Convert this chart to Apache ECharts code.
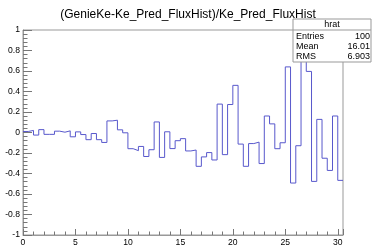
<!DOCTYPE html>
<html><head><meta charset="utf-8">
<script src="https://cdn.jsdelivr.net/npm/echarts@6/dist/echarts.min.js"></script>
<style>html,body{margin:0;padding:0;background:#fff}#c{width:372px;height:247px}</style>
</head><body><div id="c"></div>
<script>
const titleText = '(GenieKe-Ke_Pred_FluxHist)/Ke_Pred_FluxHist';
const xMin = 0;
const xMax = 30.5;
const binWidth = 0.5;
const binValues = [
  0.01, 0.02, -0.025, 0.028, -0.018, -0.018, 0.013, 0.003, 0.016, -0.042,
  0.006, -0.02, -0.07, -0.01, -0.07, -0.097, 0.113, 0.12, 0.026, -0.003,
  -0.158, -0.177, -0.136, -0.234, -0.168, 0.103, -0.243, 0.007, -0.157, -0.08,
  -0.06, -0.18, -0.171, -0.33, -0.238, -0.196, -0.268, 0.277, -0.216, 0.273,
  0.46, -0.113, -0.33, -0.108, -0.094, -0.303, 0.161, 0.084, -0.158, -0.1,
  0.64, -0.493, -0.129, 0.85, 0.596, -0.477, 0.128, -0.251, -0.37, 0.161,
  -0.467
];
const xTickLabels = [0, 5, 10, 15, 20, 25, 30];
const yTickLabels = [-1, -0.8, -0.6, -0.4, -0.2, 0, 0.2, 0.4, 0.6, 0.8, 1];
const statsName = 'hrat';
const statsLabels = ['Entries', 'Mean', 'RMS'];
const statsValues = ['100', '16.01', '6.903'];

const histData = binValues.map((v, i) => [xMin + i * binWidth, v]);
histData.push([xMin + binValues.length * binWidth, binValues[binValues.length - 1]]);

const font = 'Liberation Sans, Arial, Helvetica, sans-serif';
const axisGrey = '#999';
const chart = echarts.init(document.getElementById('c'), null, {renderer: 'canvas'});

const bx = 293, by = 19, bw = 78, bh = 43;
const graphics = [
  {type: 'rect', shape: {x: bx, y: by, width: bw, height: bh}, style: {fill: '#fff', stroke: axisGrey, lineWidth: 1}, z: 100},
  {type: 'line', shape: {x1: bx, y1: 30, x2: bx + bw, y2: 30}, style: {stroke: axisGrey, lineWidth: 1}, z: 101},
  {type: 'text', x: bx + bw / 2, y: 24.5, style: {text: statsName, font: '9px ' + font, fill: '#000', align: 'center', verticalAlign: 'middle'}, z: 101}
];
statsLabels.forEach((lab, i) => {
  const yy = 36.5 + i * 10;
  graphics.push({type: 'text', x: bx + 3, y: yy, style: {text: lab, font: '9px ' + font, fill: '#000', align: 'left', verticalAlign: 'middle'}, z: 101});
  graphics.push({type: 'text', x: bx + bw - 1, y: yy, style: {text: statsValues[i], font: '9px ' + font, fill: '#000', align: 'right', verticalAlign: 'middle'}, z: 101});
});

chart.setOption({
  animation: false,
  backgroundColor: '#fff',
  title: {
    text: titleText, left: 183, top: 4, textAlign: 'center', z: 200,
    textStyle: {fontFamily: font, fontSize: 12, fontWeight: 'normal', color: '#000'}
  },
  grid: {left: 23, right: 29, top: 30, bottom: 10, show: true, borderColor: axisGrey, borderWidth: 1, backgroundColor: 'transparent'},
  xAxis: {
    type: 'value', min: xMin, max: xMax, interval: 5,
    axisLine: {show: true, onZero: false, lineStyle: {color: axisGrey, width: 1}},
    axisTick: {show: true, inside: true, length: 6, lineStyle: {color: '#777'}},
    minorTick: {show: true, splitNumber: 5, length: 3.5, lineStyle: {color: '#777'}},
    splitLine: {show: false},
    axisLabel: {
      margin: 3, fontFamily: font, fontSize: 8.6, color: '#000',
      formatter: v => xTickLabels.indexOf(Math.round(v * 1000) / 1000) >= 0 ? String(Math.round(v)) : ''
    }
  },
  yAxis: {
    type: 'value', min: -1, max: 1, interval: 0.2,
    axisLine: {show: true, onZero: false, lineStyle: {color: axisGrey, width: 1}},
    axisTick: {show: true, inside: true, length: 9, lineStyle: {color: '#777'}},
    minorTick: {show: true, splitNumber: 5, length: 4.5, lineStyle: {color: '#777'}},
    splitLine: {show: false},
    axisLabel: {
      margin: 3, fontFamily: font, fontSize: 8.6, color: '#000',
      formatter: v => {
        const r = Math.round(v * 10) / 10;
        return yTickLabels.indexOf(r) >= 0 ? String(r) : '';
      }
    }
  },
  series: [{
    type: 'line', step: 'end', data: histData, showSymbol: false, symbol: 'none',
    lineStyle: {color: '#5858cc', width: 1}, clip: true
  }],
  graphic: graphics
});
</script>
</body></html>
